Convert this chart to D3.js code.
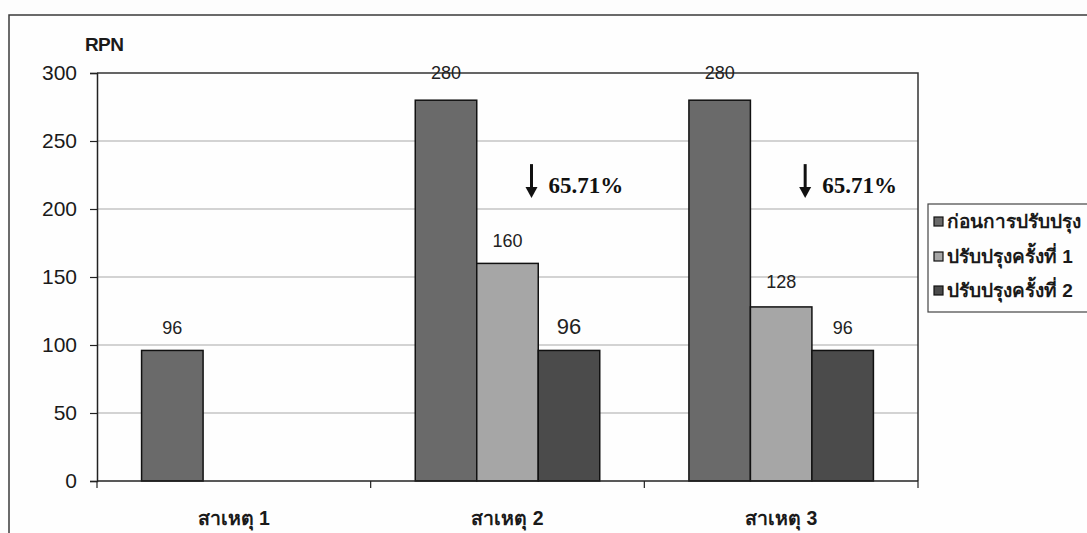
<!DOCTYPE html>
<html>
<head>
<meta charset="utf-8">
<script src="https://cdn.jsdelivr.net/npm/d3@7"></script>
<style>
  html, body { margin: 0; padding: 0; background: #fdfdfd; }
  svg { display: block; }
</style>
</head>
<body>
<svg id="chart" width="1087" height="533"></svg>
<script>
// RPN per cause, before and after each round of improvement
const categories = ["สาเหตุ 1", "สาเหตุ 2", "สาเหตุ 3"];
const seriesNames = ["ก่อนการปรับปรุง", "ปรับปรุงครั้งที่ 1", "ปรับปรุงครั้งที่ 2"];
const beforeValues = [96, 280, 280];
const round1Values = [null, 160, 128];
const round2Values = [null, 96, 96];
const yTicks = [0, 50, 100, 150, 200, 250, 300];
const reductionLabels = [null, "65.71%", "65.71%"];

const seriesValues = [beforeValues, round1Values, round2Values];
const seriesColors = ["#6a6a6a", "#a6a6a6", "#4b4b4b"];

const svg = d3.select("#chart");
const plot = { left: 97, right: 918, top: 73, bottom: 481 };

// Chart frame
svg.append("rect")
  .attr("x", 9).attr("y", 15)
  .attr("width", 1200).attr("height", 600)
  .attr("fill", "#fefefe").attr("stroke", "#3a3a3a").attr("stroke-width", 1.5);

const x = d3.scaleBand().domain(categories).range([plot.left, plot.right]).padding(0);
const xs = d3.scaleBand().domain(seriesNames).range([0, x.bandwidth()])
  .paddingInner(0).paddingOuter(0.725);
const y = d3.scaleLinear().domain([0, 300]).range([plot.bottom, plot.top]);

// Gridlines
svg.append("g").selectAll("line")
  .data(yTicks.filter(t => t > 0 && t < 300))
  .join("line")
  .attr("x1", plot.left).attr("x2", plot.right)
  .attr("y1", d => y(d)).attr("y2", d => y(d))
  .attr("stroke", "#a8a8a8").attr("stroke-width", 1);

// Plot area border (top and right)
svg.append("path")
  .attr("d", `M${plot.left},${plot.top}H${plot.right}V${plot.bottom}`)
  .attr("fill", "none").attr("stroke", "#333").attr("stroke-width", 1.5);

// Bars
const barData = [];
seriesValues.forEach((vals, si) => {
  vals.forEach((v, ci) => {
    if (v != null) barData.push({ cat: categories[ci], series: seriesNames[si], si, ci, value: v });
  });
});

svg.append("g").selectAll("rect")
  .data(barData)
  .join("rect")
  .attr("x", d => x(d.cat) + xs(d.series))
  .attr("y", d => y(d.value))
  .attr("width", xs.bandwidth())
  .attr("height", d => y(0) - y(d.value))
  .attr("fill", d => seriesColors[d.si])
  .attr("stroke", "#111").attr("stroke-width", 1.5);

// Value labels (the second-round label of cause 2 is set larger)
const isLarge = d => d.ci === 1 && d.si === 2;
svg.append("g").selectAll("text")
  .data(barData)
  .join("text")
  .attr("x", d => x(d.cat) + xs(d.series) + xs.bandwidth() / 2)
  .attr("y", d => y(d.value) - (d.value === 280 ? 21 : (d.si === 1 && d.ci === 2 ? 19 : 16)))
  .attr("text-anchor", "middle")
  .attr("font-family", "Liberation Sans, Arial, sans-serif")
  .attr("font-size", d => isLarge(d) ? 22 : 18)
  .attr("fill", "#222")
  .text(d => d.value);

// Y axis
const yAxis = d3.axisLeft(y).tickValues(yTicks).tickSize(7).tickPadding(13);
const yg = svg.append("g").attr("transform", `translate(${plot.left},0)`).call(yAxis);
yg.select(".domain").attr("stroke", "#222").attr("stroke-width", 1.5);
yg.selectAll(".tick line").attr("stroke", "#222").attr("stroke-width", 1.2);
yg.selectAll(".tick text")
  .attr("font-family", "Liberation Sans, Arial, sans-serif")
  .attr("font-size", 21).attr("fill", "#1a1a1a");

// X axis with ticks between categories
const xg = svg.append("g").attr("transform", `translate(0,${plot.bottom})`);
xg.append("line").attr("x1", plot.left).attr("x2", plot.right)
  .attr("y1", 0).attr("y2", 0).attr("stroke", "#222").attr("stroke-width", 1.5);
xg.selectAll(".xtick")
  .data(categories.map(c => x(c)).concat([plot.right]))
  .join("line")
  .attr("x1", d => d).attr("x2", d => d)
  .attr("y1", 0).attr("y2", 7)
  .attr("stroke", "#222").attr("stroke-width", 1.2);
xg.selectAll(".xlabel")
  .data(categories)
  .join("text")
  .attr("x", d => x(d) + x.bandwidth() / 2)
  .attr("y", 44)
  .attr("text-anchor", "middle")
  .attr("font-family", "Tahoma, Liberation Sans, Arial, sans-serif")
  .attr("font-weight", "bold")
  .attr("font-size", 19.5)
  .attr("fill", "#1a1a1a")
  .text(d => d);

// Axis title
svg.append("text")
  .attr("x", 85).attr("y", 51)
  .attr("font-family", "Liberation Sans, Arial, sans-serif")
  .attr("font-weight", "bold").attr("font-size", 19)
  .attr("letter-spacing", -0.6)
  .attr("fill", "#1a1a1a")
  .text("RPN");

// Reduction annotations: arrow + percentage
const ann = svg.append("g");
reductionLabels.forEach((lab, ci) => {
  if (!lab) return;
  const cx = x(categories[ci]) + xs(seriesNames[1]) + xs.bandwidth() / 2 + 24;
  const yTop = y(233), yBot = y(208);
  ann.append("line")
    .attr("x1", cx).attr("x2", cx).attr("y1", yTop).attr("y2", yBot - 8)
    .attr("stroke", "#111").attr("stroke-width", 3);
  ann.append("path")
    .attr("d", `M${cx - 6},${yBot - 11}L${cx + 6},${yBot - 11}L${cx},${yBot}Z`)
    .attr("fill", "#111");
  ann.append("text")
    .attr("x", cx + 17).attr("y", y(212))
    .attr("font-family", "Liberation Serif, Times New Roman, serif")
    .attr("font-weight", "bold").attr("font-size", 23)
    .attr("fill", "#111")
    .text(lab);
});

// Legend
const legend = svg.append("g");
legend.append("rect")
  .attr("x", 928).attr("y", 204).attr("width", 200).attr("height", 108)
  .attr("fill", "#fefefe").attr("stroke", "#444").attr("stroke-width", 1.2);
const rowY = [222, 257, 291];
seriesNames.forEach((name, i) => {
  legend.append("rect")
    .attr("x", 934).attr("y", rowY[i] - 5).attr("width", 9).attr("height", 9)
    .attr("fill", seriesColors[i]).attr("stroke", "#111").attr("stroke-width", 1.2);
  legend.append("text")
    .attr("x", 947).attr("y", rowY[i] + 6)
    .attr("font-family", "Tahoma, Liberation Sans, Arial, sans-serif")
    .attr("font-weight", "bold").attr("font-size", 19)
    .attr("fill", "#1a1a1a")
    .text(name);
});
</script>
</body>
</html>
